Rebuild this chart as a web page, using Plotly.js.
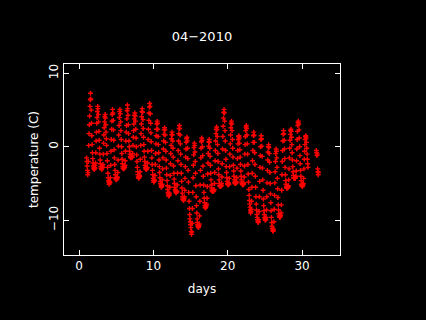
<!DOCTYPE html>
<html>
<head>
<meta charset="utf-8">
<script src="https://cdn.plot.ly/plotly-3.0.1.min.js"></script>
<style>html,body{margin:0;padding:0;background:#000;}#chart{width:426px;height:320px;}</style>
</head>
<body>
<div id="chart"></div>
<script>
// Hourly temperatures (C), hour 0..23, for each day of April 2010
const d01 = [-1.5,-2.0,-2.6,-3.2,-3.8,-3.5,-2.0,0.2,1.8,3.0,4.2,5.5,6.4,7.3,6.5,5.0,3.2,1.5,0.3,-0.8,-1.6,-2.2,-2.6,-2.9];
const d02 = [-3.0,-3.1,-2.8,-2.5,-2.9,-2.2,-0.8,0.8,2.0,3.2,4.0,4.8,5.5,5.2,4.4,3.4,2.1,0.9,-0.2,-1.0,-1.8,-2.3,-2.7,-2.9];
const d03 = [-3.0,-3.1,-2.9,-2.6,-2.8,-2.4,-1.0,0.5,1.6,2.6,3.4,4.1,4.4,3.9,3.0,2.0,1.1,0.2,-0.9,-1.9,-2.8,-3.6,-4.2,-4.6];
const d04 = [-4.8,-5.1,-4.9,-4.7,-4.9,-4.2,-2.5,-0.6,1.0,2.4,3.5,4.4,5.1,4.6,3.6,2.3,0.9,-0.4,-1.5,-2.4,-3.2,-3.8,-4.2,-4.4];
const d05 = [-4.5,-4.3,-4.4,-4.1,-4.2,-3.5,-1.8,0.1,1.6,2.9,4.0,4.8,5.1,4.5,3.4,2.2,1.0,0.0,-0.9,-1.7,-2.3,-2.7,-2.9,-3.0];
const d06 = [-2.9,-3.0,-2.7,-2.8,-2.5,-1.9,-0.6,0.8,2.0,2.9,3.8,4.9,5.7,5.2,4.3,3.0,1.8,0.8,0.0,-0.6,-1.0,-1.3,-1.5,-1.4];
const d07 = [-1.5,-1.3,-1.4,-1.2,-1.4,-0.9,0.2,1.3,2.2,3.1,3.8,4.3,4.6,4.2,3.5,2.4,1.2,0.0,-1.1,-2.0,-2.8,-3.4,-3.8,-4.1];
const d08 = [-4.2,-4.3,-4.1,-3.9,-4.0,-3.4,-1.7,0.2,1.8,3.1,4.1,4.8,5.2,4.7,3.7,2.5,1.3,0.3,-0.6,-1.4,-2.0,-2.5,-2.8,-3.0];
const d09 = [-3.0,-3.1,-2.9,-3.0,-2.8,-2.2,-0.6,1.0,2.4,3.6,4.6,5.4,5.9,5.5,4.5,3.2,1.9,0.7,-0.5,-1.5,-2.4,-3.2,-3.8,-4.3];
const d10 = [-4.6,-4.8,-4.7,-4.5,-4.6,-3.9,-2.4,-0.9,0.4,1.5,2.4,3.1,3.5,3.2,2.4,1.4,0.3,-0.8,-1.8,-2.7,-3.5,-4.2,-4.7,-5.0];
const d11 = [-5.2,-5.5,-5.3,-5.4,-5.1,-4.5,-3.0,-1.5,-0.3,0.8,1.7,2.3,2.6,2.3,1.6,0.6,-0.6,-1.8,-2.9,-3.8,-4.6,-5.3,-5.8,-6.2];
const d12 = [-6.4,-6.7,-6.5,-6.6,-6.3,-5.5,-3.9,-2.3,-0.9,0.2,1.1,1.7,2.0,1.6,0.8,-0.2,-1.4,-2.6,-3.6,-4.4,-5.0,-5.5,-5.8,-6.0];
const d13 = [-6.1,-6.3,-6.2,-6.0,-6.1,-5.2,-3.6,-1.9,-0.5,0.8,1.8,2.5,2.9,2.5,1.6,0.4,-1.0,-2.4,-3.6,-4.7,-5.6,-6.3,-6.8,-7.1];
const d14 = [-7.1,-7.3,-7.2,-7.0,-6.8,-5.9,-4.3,-2.7,-1.4,-0.3,0.6,1.1,1.3,0.8,-0.2,-1.6,-3.2,-4.8,-6.2,-7.4,-8.4,-9.2,-9.8,-10.2];
const d15 = [-10.6,-11.0,-11.5,-11.9,-11.6,-10.4,-8.4,-6.2,-4.2,-2.5,-1.1,-0.1,0.5,0.2,-0.7,-2.0,-3.6,-5.3,-6.8,-8.0,-9.0,-9.8,-10.3,-10.6];
const d16 = [-10.8,-11.0,-10.9,-10.7,-10.5,-9.4,-7.4,-5.2,-3.2,-1.5,-0.2,0.7,1.2,0.9,0.0,-1.2,-2.6,-4.0,-5.2,-6.2,-7.0,-7.6,-8.0,-8.3];
const d17 = [-8.2,-8.3,-8.1,-7.9,-7.8,-7.0,-5.4,-3.7,-2.2,-0.9,0.1,0.7,1.0,0.6,-0.2,-1.3,-2.5,-3.6,-4.5,-5.2,-5.6,-5.9,-6.1,-6.0];
const d18 = [-6.0,-6.1,-5.9,-6.0,-5.8,-5.0,-3.5,-1.9,-0.5,0.8,1.8,2.4,2.7,2.3,1.4,0.3,-0.9,-2.0,-3.0,-3.8,-4.5,-5.0,-5.3,-5.4];
const d19 = [-5.3,-5.4,-5.2,-5.3,-5.0,-4.1,-2.3,-0.3,1.4,2.8,3.9,4.7,5.1,4.6,3.5,2.2,0.8,-0.5,-1.7,-2.7,-3.5,-4.2,-4.7,-5.0];
const d20 = [-5.1,-5.2,-5.0,-4.9,-5.1,-4.3,-2.7,-1.0,0.4,1.6,2.6,3.2,3.5,3.1,2.2,1.0,-0.2,-1.4,-2.5,-3.3,-4.0,-4.5,-4.8,-5.0];
const d21 = [-4.9,-5.0,-4.8,-4.7,-4.9,-4.2,-2.9,-1.6,-0.5,0.4,1.0,1.4,1.5,1.2,0.5,-0.4,-1.4,-2.4,-3.3,-4.0,-4.5,-4.8,-5.0,-5.1];
const d22 = [-5.1,-5.2,-5.0,-5.1,-4.9,-4.1,-2.6,-1.0,0.3,1.4,2.2,2.7,2.9,2.5,1.6,0.4,-1.0,-2.4,-3.7,-4.8,-5.8,-6.6,-7.3,-7.8];
const d23 = [-8.2,-8.6,-9.0,-8.8,-8.5,-7.4,-5.5,-3.6,-1.9,-0.5,0.6,1.5,2.0,1.6,0.6,-0.8,-2.4,-4.0,-5.5,-6.8,-7.8,-8.6,-9.2,-9.6];
const d24 = [-9.9,-10.1,-10.3,-10.2,-9.9,-8.8,-6.8,-4.7,-2.8,-1.2,0.0,1.0,1.5,1.1,0.1,-1.3,-2.9,-4.5,-5.9,-7.1,-8.0,-8.7,-9.2,-9.6];
const d25 = [-9.8,-10.0,-9.8,-9.9,-9.6,-8.6,-6.8,-4.9,-3.2,-1.8,-0.7,0.0,0.3,-0.1,-0.9,-2.1,-3.5,-5.0,-6.4,-7.6,-8.7,-9.6,-10.3,-10.8];
const d26 = [-11.1,-11.3,-11.5,-11.4,-11.2,-10.2,-8.5,-6.6,-4.9,-3.4,-2.0,-0.9,-0.3,-0.6,-1.5,-2.8,-4.3,-5.7,-6.9,-7.9,-8.6,-9.1,-9.4,-9.6];
const d27 = [-9.5,-9.6,-9.4,-9.3,-9.0,-7.9,-5.9,-3.8,-2.0,-0.5,0.8,1.7,2.2,1.8,0.9,-0.3,-1.6,-2.8,-3.8,-4.6,-5.1,-5.4,-5.6,-5.6];
const d28 = [-5.5,-5.6,-5.4,-5.5,-5.3,-4.5,-3.0,-1.5,-0.2,0.9,1.7,2.2,2.4,2.1,1.3,0.3,-0.8,-1.8,-2.7,-3.4,-3.9,-4.2,-4.3,-4.3];
const d29 = [-4.3,-4.2,-4.3,-4.1,-4.0,-3.3,-1.9,-0.3,1.0,2.1,2.9,3.3,3.5,3.1,2.3,1.2,0.0,-1.2,-2.3,-3.2,-4.0,-4.6,-5.1,-5.3];
const d30 = [-5.2,-5.4,-5.3,-5.1,-5.0,-4.3,-3.0,-1.7,-0.6,0.3,1.0,1.4,1.5,1.2,0.6,-0.2,-1.0,-1.7,-2.3,-2.8];
// last readings, starting at hour 22 of day 31
const dLast = [-0.5,-0.8,-1.2,-1.0,-3.0,-3.4,-3.8,-3.5];
const dLastStart = 31 + 22/24;

const dayArrays = [d01,d02,d03,d04,d05,d06,d07,d08,d09,d10,d11,d12,d13,d14,d15,d16,d17,d18,d19,d20,d21,d22,d23,d24,d25,d26,d27,d28,d29,d30];

const xTicks = [0, 10, 20, 30];
const yTicks = [-10, 0, 10];

const xs = [], ys = [];
dayArrays.forEach((arr, i) => {
  arr.forEach((v, h) => { xs.push(i + 1 + h / 24); ys.push(v); });
});
dLast.forEach((v, h) => { xs.push(dLastStart + h / 24); ys.push(v); });

const fontFam = 'DejaVu Sans, sans-serif';
const axisCommon = {
  showline: true, linecolor: '#fff', linewidth: 1, mirror: 'ticks',
  ticks: 'inside', ticklen: 5, tickwidth: 1, tickcolor: '#fff',
  showgrid: false, zeroline: false,
  tickfont: {family: fontFam, size: 12, color: '#fff'},
  tickmode: 'array'
};

Plotly.newPlot('chart', [{
  x: xs, y: ys, type: 'scatter', mode: 'markers',
  marker: {symbol: 'cross-thin', size: 3.5, line: {color: '#ff0000', width: 1.4}, color: '#ff0000'},
  hoverinfo: 'skip'
}], {
  width: 426, height: 320,
  paper_bgcolor: '#000', plot_bgcolor: '#000',
  margin: {l: 64, r: 86, t: 64, b: 65},
  showlegend: false,
  title: {text: '04\u22122010', font: {family: fontFam, size: 13, color: '#fff'}, x: 0.474, xanchor: 'center', y: 0.887, yanchor: 'middle'},
  xaxis: Object.assign({}, axisCommon, {
    range: [-2.03, 35.1], tickvals: xTicks, ticktext: xTicks.map(String),
    title: {text: 'days', font: {family: fontFam, size: 12, color: '#fff'}, standoff: 12}
  }),
  yaxis: Object.assign({}, axisCommon, {
    range: [-14.72, 11.27], tickvals: yTicks, ticktext: yTicks.map(v => v < 0 ? '\u2212' + Math.abs(v) : String(v)),
    tickangle: -90,
    title: {text: 'temperature (C)', font: {family: fontFam, size: 12, color: '#fff'}, standoff: 6}
  })
}, {displayModeBar: false, staticPlot: true});
</script>
</body>
</html>
